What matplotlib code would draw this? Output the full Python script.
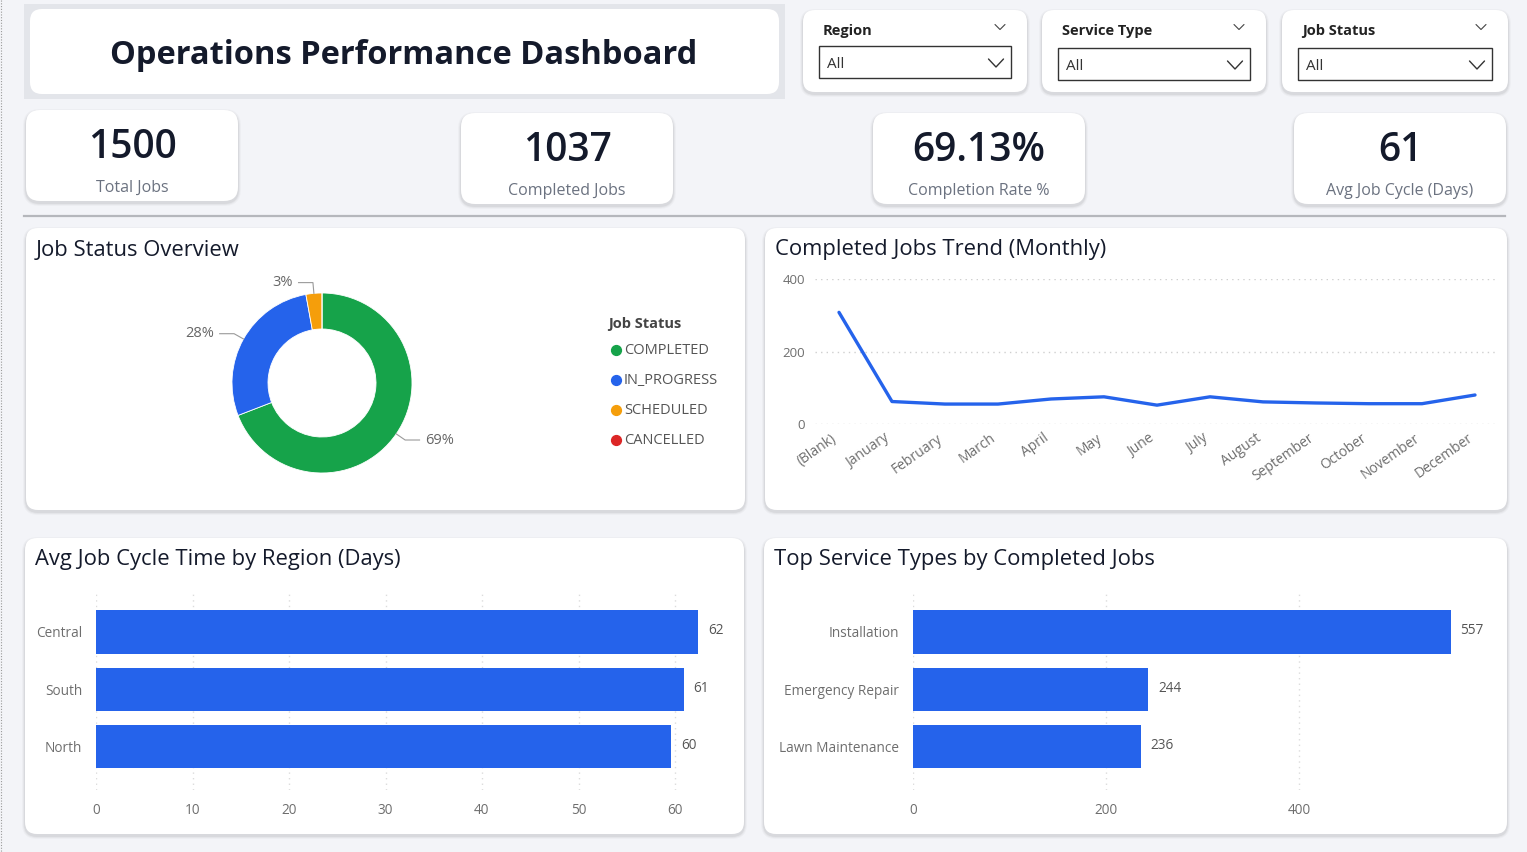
import matplotlib
matplotlib.use("Agg")
import matplotlib.pyplot as plt
import matplotlib.transforms as mtransforms
from matplotlib.patches import FancyBboxPatch, Rectangle
import numpy as np

plt.rcParams['font.family'] = ['Open Sans', 'DejaVu Sans']

# ---- data ----
kpi_values = ["1500", "1037", "69.13%", "61"]
kpi_labels = ["Total Jobs", "Completed Jobs", "Completion Rate %", "Avg Job Cycle (Days)"]

filter_names = ["Region", "Service Type", "Job Status"]

statuses = ["COMPLETED", "IN_PROGRESS", "SCHEDULED", "CANCELLED"]
status_counts = [1037, 420, 43, 0]
status_colors = ["#16a34a", "#2563eb", "#f59e0b", "#dc2626"]

months = ["(Blank)", "January", "February", "March", "April", "May", "June",
          "July", "August", "September", "October", "November", "December"]
completed_monthly = [308, 62, 55, 55, 69, 75, 52, 75, 61, 58, 56, 56, 80]

regions = ["Central", "South", "North"]
region_cycle_days = [62.4, 60.9, 59.6]

service_types = ["Installation", "Emergency Repair", "Lawn Maintenance"]
service_completed = [557, 244, 236]

W, H = 1527, 852
BLUE = "#2563eb"
DARK = "#141a2b"
GRAY = "#6b7280"
TICK = "#6e6e6e"


def rect(x0, y0, x1, y1):
    return [x0 / W, 1 - y1 / H, (x1 - x0) / W, (y1 - y0) / H]


fig = plt.figure(figsize=(W / 100, H / 100), dpi=100)
fig.patch.set_facecolor("#f3f4f8")
bg = fig.add_axes([0, 0, 1, 1])
bg.set_xlim(0, W)
bg.set_ylim(H, 0)
bg.axis("off")


def card(x0, y0, x1, y1, r=12, shadow=True):
    if shadow:
        for g, a in [(6, 0.025), (4, 0.035), (2, 0.05)]:
            bg.add_patch(FancyBboxPatch((x0 - g / 2, y0 - g / 2 + 2), x1 - x0 + g, y1 - y0 + g,
                                        boxstyle=f"round,pad=0,rounding_size={r + g / 2}",
                                        fc="#000000", ec="none", alpha=a))
    bg.add_patch(FancyBboxPatch((x0, y0), x1 - x0, y1 - y0,
                                boxstyle=f"round,pad=0,rounding_size={r}",
                                fc="white", ec="none"))


def chevron(x, y, w, h, color="#444444", lw=1.0):
    bg.plot([x - w / 2, x, x + w / 2], [y - h / 2, y + h / 2, y - h / 2],
            color=color, lw=lw, solid_capstyle="round")


# left dotted border
bg.plot([1, 1], [0, H], color="#9a9a9a", lw=0.8, ls=(0, (1, 1.5)))

# title block
bg.add_patch(Rectangle((24, 4), 761, 95, fc="#e3e5ea", ec="none"))
card(30, 9, 779, 94, r=12, shadow=False)
bg.text(404, 56, "Operations Performance Dashboard", fontsize=23.5, fontweight="bold",
        color=DARK, ha="center", va="center")

# filters
filters = [(803, 1027), (1042, 1266), (1282, 1508)]
for (x0, x1), name in zip(filters, filter_names):
    card(x0, 10, x1, 92, r=12)
    bg.text(x0 + 20, 31, name, fontsize=10.5, fontweight="bold", color="#222222",
            ha="left", va="center")
    chevron(x1 - 27, 27, 10, 5, lw=0.8)
    bx0, bx1 = x0 + 16, x1 - 16
    by0 = 46 if name == "Region" else 48
    bg.add_patch(Rectangle((bx0, by0), bx1 - bx0, 32, fc="white", ec="#333333", lw=1.0))
    bg.text(bx0 + 8, by0 + 19, "All", fontsize=11, color="#333333", ha="left", va="center")
    chevron(bx1 - 15, by0 + 17, 15, 8, color="#333333", lw=1.0)

# KPI cards
kpi_boxes = [(26, 110, 238, 201), (461, 113, 673, 204), (873, 113, 1085, 204), (1294, 113, 1506, 204)]
for (x0, y0, x1, y1), v, lab in zip(kpi_boxes, kpi_values, kpi_labels):
    card(x0, y0, x1, y1, r=14)
    cx = (x0 + x1) / 2
    bg.text(cx, y0 + 38, v, fontsize=28, fontweight="semibold", color=DARK,
            ha="center", va="center")
    bg.text(cx, y0 + 78, lab, fontsize=11.5, color=GRAY, ha="center", va="center")

# separator
bg.plot([24, 1505], [216, 216], color="#b5b7bc", lw=1.6)

# panels
panels = [(26, 228, 745, 510, "Job Status Overview"),
          (765, 228, 1507, 510, "Completed Jobs Trend (Monthly)"),
          (25, 538, 744, 834, "Avg Job Cycle Time by Region (Days)"),
          (764, 538, 1507, 834, "Top Service Types by Completed Jobs")]
for x0, y0, x1, y1, t in panels:
    card(x0, y0, x1, y1, r=12)
    bg.text(x0 + 10, y0 + 22, t, fontsize=15.8, color=DARK, ha="left", va="center")

# ---- donut ----
R = 90
cx, cy = 322, 383
axd = fig.add_axes(rect(cx - 140, cy - 140, cx + 140, cy + 140))
axd.pie(status_counts, colors=status_colors, startangle=90, counterclock=False, radius=1,
        wedgeprops=dict(width=0.4, edgecolor="white", linewidth=0.6))
lim = 140 / R
axd.set_xlim(-lim, lim)
axd.set_ylim(-lim, lim)
axd.set_aspect("equal")
axd.axis("off")

total = sum(status_counts)
cum = 0
for c in status_counts:
    frac = c / total
    if c > 0:
        ang = np.deg2rad(90 - 360 * (cum + frac / 2))
        x0, y0 = np.cos(ang) * 1.0, np.sin(ang) * 1.0
        x1, y1 = np.cos(ang) * 1.12, np.sin(ang) * 1.12
        side = 1 if np.cos(ang) > 0 else -1
        x2 = x1 + side * 0.16
        axd.plot([x0, x1, x2], [y0, y1, y1], color="#9a9a9a", lw=0.8)
        axd.text(x2 + side * 0.06, y1, f"{frac * 100:.0f}%", fontsize=10.5, color="#666666",
                 ha="left" if side > 0 else "right", va="center")
    cum += frac

# legend
bg.text(608, 324, "Job Status", fontsize=10.5, fontweight="bold", color="#444444",
        ha="left", va="center")
for i, (s, col) in enumerate(zip(statuses, status_colors)):
    yy = 350 + 30 * i
    bg.scatter([616], [yy], s=50, color=col, zorder=3)
    bg.text(624, yy + 1, s, fontsize=10.5, color="#555555", ha="left", va="center")

# ---- line chart ----
step = (1475 - 839) / 12
axl = fig.add_axes(rect(815, 279, 1497, 424))
axl.plot(range(len(months)), completed_monthly, color=BLUE, lw=2.4,
         solid_joinstyle="round", solid_capstyle="round", clip_on=False)
axl.set_xlim(-(839 - 815) / step, (1497 - 839) / step)
axl.set_ylim(0, 400)
axl.set_yticks([0, 200, 400])
axl.set_xticks(range(len(months)))
axl.set_xticklabels(months, rotation=35, ha="right", rotation_mode="anchor")
axl.grid(axis="y", color="#cfcfcf", lw=1, ls=(0, (1, 3)))
axl.set_axisbelow(True)
for s in axl.spines.values():
    s.set_visible(False)
axl.tick_params(length=0, labelsize=9.5, labelcolor=TICK)
axl.tick_params(axis="x", labelsize=10, pad=5)
axl.tick_params(axis="y", pad=7)
shift = mtransforms.ScaledTranslation(-8 / 100, 0, fig.dpi_scale_trans)
for lab in axl.get_xticklabels():
    lab.set_transform(lab.get_transform() + shift)
axl.patch.set_alpha(0)


def hbar(ax, labels, values, fmt, xticks):
    ax.barh(range(len(labels)), values, height=0.75, color=BLUE)
    ax.set_yticks(range(len(labels)))
    ax.set_yticklabels(labels)
    ax.set_xticks(xticks)
    ax.set_ylim(2.75, -0.73)
    ax.grid(axis="x", color="#dcdcdc", lw=1, ls=(0, (1, 3)))
    ax.set_axisbelow(True)
    for s in ax.spines.values():
        s.set_visible(False)
    ax.tick_params(length=0, labelsize=9.8, labelcolor=TICK)
    ax.tick_params(axis="y", pad=10)
    ax.tick_params(axis="x", pad=9)
    ax.patch.set_alpha(0)
    for i, v in enumerate(values):
        ax.annotate(fmt(v), (v, i), xytext=(10, 1), textcoords="offset pixels",
                    fontsize=9.8, color="#555555", va="center", ha="left")


ppu1 = (675 - 96) / 60
axb1 = fig.add_axes(rect(96, 590, 96 + 64 * ppu1, 790))
axb1.set_xlim(0, 64)
hbar(axb1, regions, region_cycle_days, lambda v: f"{v:.0f}", [0, 10, 20, 30, 40, 50, 60])

ppu2 = (1299 - 913) / 400
axb2 = fig.add_axes(rect(913, 590, 913 + 567 * ppu2, 790))
axb2.set_xlim(0, 567)
hbar(axb2, service_types, service_completed, lambda v: f"{v:.0f}", [0, 200, 400])

fig.savefig("out.png", dpi=100, facecolor=fig.get_facecolor())
